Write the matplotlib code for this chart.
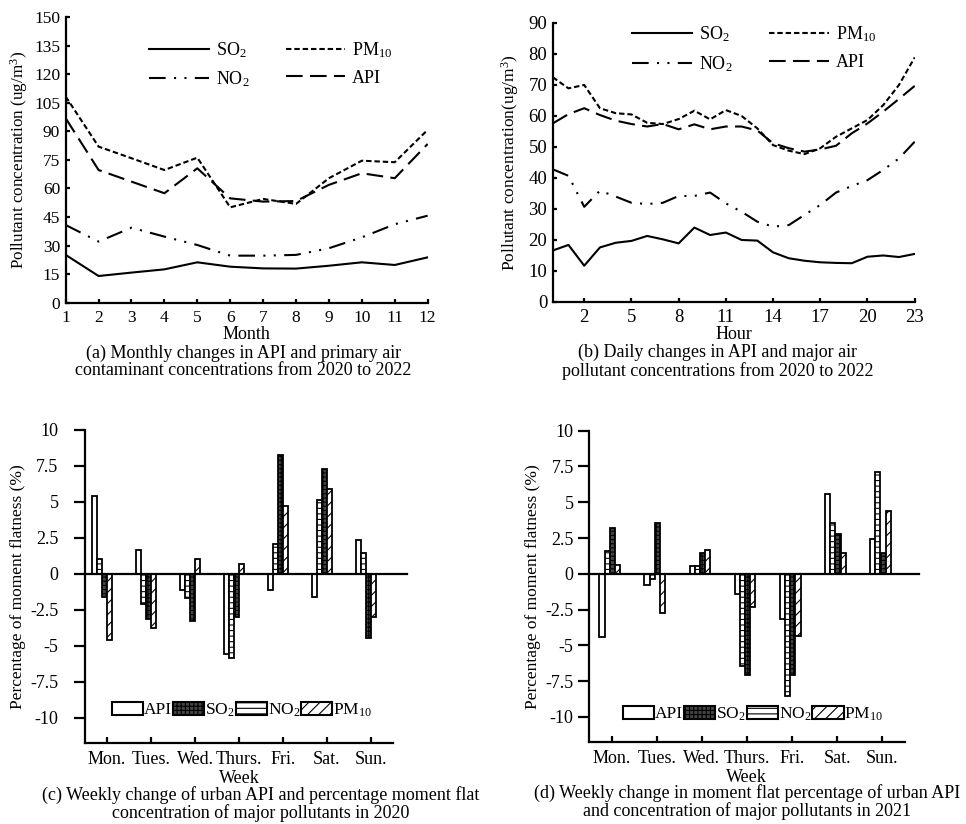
import numpy as np
import matplotlib
matplotlib.use("Agg")
import matplotlib.pyplot as plt
from matplotlib.patches import Patch

plt.rcParams['font.family'] = ['Liberation Serif', 'DejaVu Serif']
plt.rcParams['mathtext.default'] = 'regular'
plt.rcParams['hatch.linewidth'] = 0.8

# (a) monthly means 2020-2022
months = list(range(1, 13))
so2_month = [25.1, 14.0, 15.8, 17.5, 21.2, 18.9, 18.0, 17.9, 19.4, 21.2, 19.8, 23.8]
no2_month = [40.8, 32.1, 39.4, 34.7, 30.3, 24.7, 24.7, 25.1, 28.6, 34.3, 41.2, 45.7]
pm10_month = [108.3, 82.0, 75.9, 69.7, 76.2, 50.1, 54.5, 51.9, 65.4, 74.6, 73.8, 90.8]
api_month = [96.9, 69.7, 63.6, 57.5, 70.6, 54.8, 53.1, 53.4, 61.9, 68.0, 65.4, 83.4]

# (b) hourly means 2020-2022
hours = list(range(24))
so2_hour = [16.5, 18.3, 11.6, 17.5, 19.0, 19.6, 21.2, 20.1, 18.8, 23.9, 21.5, 22.3,
            19.9, 19.7, 15.9, 14.0, 13.2, 12.7, 12.5, 12.4, 14.5, 14.9, 14.4, 15.4]
no2_hour = [42.7, 40.6, 30.6, 35.8, 33.9, 31.9, 31.5, 31.9, 34.1, 34.1, 35.2, 31.7,
            29.0, 25.8, 24.2, 24.7, 28.0, 31.2, 35.2, 37.3, 39.2, 42.5, 46.2, 51.6]
pm10_hour = [72.4, 68.8, 69.9, 62.4, 60.8, 60.4, 57.7, 57.3, 58.9, 61.6, 58.8, 61.8,
             59.9, 55.9, 50.5, 48.7, 47.6, 49.5, 53.2, 55.9, 58.6, 63.4, 69.9, 78.8]
api_hour = [57.5, 60.5, 62.4, 60.2, 58.4, 57.3, 56.5, 57.3, 55.6, 57.2, 55.6, 56.5,
            56.5, 55.2, 51.1, 49.5, 48.4, 49.1, 50.3, 54.3, 57.5, 61.3, 65.4, 69.6]
hour_ticks = [2, 5, 8, 11, 14, 17, 20, 23]

# (c), (d) weekly moment flat percentages
days = ['Mon.', 'Tues.', 'Wed.', 'Thurs.', 'Fri.', 'Sat.', 'Sun.']
api_2020 = [5.42, 1.63, -1.09, -5.58, -1.09, -1.63, 2.33]
no2_2020 = [1.0, -2.1, -1.7, -5.86, 2.09, 5.12, 1.47]
so2_2020 = [-1.58, -3.14, -3.3, -2.98, 8.26, 7.26, -4.42]
pm10_2020 = [-4.6, -3.77, 1.02, 0.7, 4.72, 5.88, -2.98]

api_2021 = [-4.39, -0.77, 0.58, -1.4, -3.18, 5.56, 2.45]
no2_2021 = [1.59, -0.35, 0.58, -6.45, -8.53, 3.55, 7.08]
so2_2021 = [3.2, 3.55, 1.47, -7.08, -7.08, 2.8, 1.47]
pm10_2021 = [0.63, -2.73, 1.68, -2.34, -4.35, 1.47, 4.39]

LW = 1.6
CAP = 13

fig = plt.figure(figsize=(9.66, 8.24), dpi=100)


def style_axes(ax, fs, xdir='in', ydir='in'):
    for s in ['top', 'right']:
        ax.spines[s].set_visible(False)
    for s in ['left', 'bottom']:
        ax.spines[s].set_linewidth(LW)
    ax.tick_params(axis='x', direction=xdir, length=3, width=LW, labelsize=fs, pad=5)
    ax.tick_params(axis='y', direction=ydir, length=3, width=LW, labelsize=fs, pad=4)


def line_panel(ax, x, so2, no2, pm10, api, anchor):
    ax.plot(x, so2, color='black', lw=1.5, ls='-', label='SO$_2$')
    ax.plot(x, pm10, color='black', lw=1.5, ls=(0, (2.6, 1.4)), label='PM$_{10}$')
    ax.plot(x, no2, color='black', lw=1.5, ls=(0, (8, 4, 1, 4, 1, 4)), label='NO$_2$')
    ax.plot(x, api, color='black', lw=1.5, ls=(0, (8, 3.5)), label='API')
    handles, labels = ax.get_legend_handles_labels()
    order = [0, 2, 1, 3]
    ax.legend([handles[i] for i in order], [labels[i] for i in order], ncol=2,
              frameon=False, fontsize=13, handlelength=3.3, labelspacing=0.55,
              columnspacing=2.0, handletextpad=0.4, loc='upper left',
              bbox_to_anchor=anchor, borderaxespad=0)


# panel (a)
ax_a = fig.add_axes([0.068, 0.6327, 0.3747, 0.3464])
line_panel(ax_a, months, so2_month, no2_month, pm10_month, api_month, (0.21, 0.945))
ax_a.set_xlim(1, 12)
ax_a.set_ylim(0, 150)
ax_a.set_xticks(months)
ax_a.set_yticks(range(0, 151, 15))
style_axes(ax_a, 12.5)
ax_a.set_ylabel('Pollutant concentration (ug/m$^{3}$)', fontsize=12.3, labelpad=3)
ax_a.set_xlabel('Month', fontsize=13, labelpad=0)
fig.text(0.252, 0.5607, '(a) Monthly changes in API and primary air\ncontaminant concentrations from 2020 to 2022',
         ha='center', va='center', fontsize=CAP, linespacing=1.05)

# panel (b)
ax_b = fig.add_axes([0.5722, 0.6339, 0.3747, 0.3386])
line_panel(ax_b, hours, so2_hour, no2_hour, pm10_hour, api_hour, (0.2, 1.02))
ax_b.set_xlim(0, 23)
ax_b.set_ylim(0, 90)
ax_b.set_xticks(hour_ticks)
ax_b.set_yticks(range(0, 91, 10))
style_axes(ax_b, 13.5)
ax_b.set_ylabel('Pollutant concentration(ug/m$^{3}$)', fontsize=12.5, labelpad=5)
ax_b.set_xlabel('Hour', fontsize=13, labelpad=0)
fig.text(0.743, 0.5607, '(b) Daily changes in API and major air\npollutant concentrations from 2020 to 2022',
         ha='center', va='center', fontsize=CAP, linespacing=1.05)

series_style = [
    dict(facecolor='white', hatch=None, label='API'),
    dict(facecolor='#444444', hatch='++++', label='SO$_2$'),
    dict(facecolor='white', hatch='---', label='NO$_2$'),
    dict(facecolor='white', hatch='///', label='PM$_{10}$'),
]


def bar_panel(ax, api, no2, so2, pm10, shift, leg_anchor, ypad):
    x = np.arange(len(days))
    w = 0.115
    # drawn order inside each group: API, NO2, SO2, PM10
    draw = [(api, series_style[0]), (no2, series_style[2]),
            (so2, series_style[1]), (pm10, series_style[3])]
    for i, (vals, st) in enumerate(draw):
        ax.bar(x + shift + (i - 1.5) * w, vals, width=w, facecolor=st['facecolor'],
               hatch=st['hatch'], edgecolor='black', linewidth=1.3)
    ax.axhline(0, xmin=0, xmax=1.045, color='black', lw=LW, clip_on=False)
    ax.set_xlim(-0.5, 6.5)
    ax.set_ylim(-11.75, 10)
    ax.set_xticks(x)
    ax.set_xticklabels(days)
    ax.set_yticks([10, 7.5, 5, 2.5, 0, -2.5, -5, -7.5, -10])
    ax.set_yticklabels(['10', '7.5', '5', '2.5', '0', '-2.5', '-5', '-7.5', '-10'])
    style_axes(ax, 13, xdir='in', ydir='out')
    ax.tick_params(axis='y', pad=ypad, length=8)
    ax.tick_params(axis='x', pad=6, length=4)
    ax.set_ylabel('Percentage of moment flatness (%)', fontsize=12.5, labelpad=3)
    ax.set_xlabel('Week', fontsize=13, labelpad=1)
    handles = [Patch(facecolor=st['facecolor'], hatch=st['hatch'], edgecolor='black',
                     linewidth=1.5, label=st['label']) for st in series_style]
    ax.legend(handles=handles, ncol=4, frameon=False, fontsize=12.5,
              handlelength=1.8, handleheight=0.8, handletextpad=0.05,
              columnspacing=0.05, loc='center', bbox_to_anchor=leg_anchor)


# panel (c)
ax_c = fig.add_axes([0.088, 0.0983, 0.3188, 0.3799])
bar_panel(ax_c, api_2020, no2_2020, so2_2020, pm10_2020, -0.11, (0.51, 0.105), 11)
fig.text(0.27, 0.024, '(c) Weekly change of urban API and percentage moment flat\nconcentration of major pollutants in 2020',
         ha='center', va='center', fontsize=CAP, linespacing=1.05)

# panel (d)
ax_d = fig.add_axes([0.6097, 0.0995, 0.327, 0.3778])
bar_panel(ax_d, api_2021, no2_2021, so2_2021, pm10_2021, -0.04, (0.52, 0.09), 3)
fig.text(0.773, 0.0265, '(d) Weekly change in moment flat percentage of urban API\nand concentration of major pollutants in 2021',
         ha='center', va='center', fontsize=CAP, linespacing=1.05)

fig.savefig('out.png', dpi=100)
